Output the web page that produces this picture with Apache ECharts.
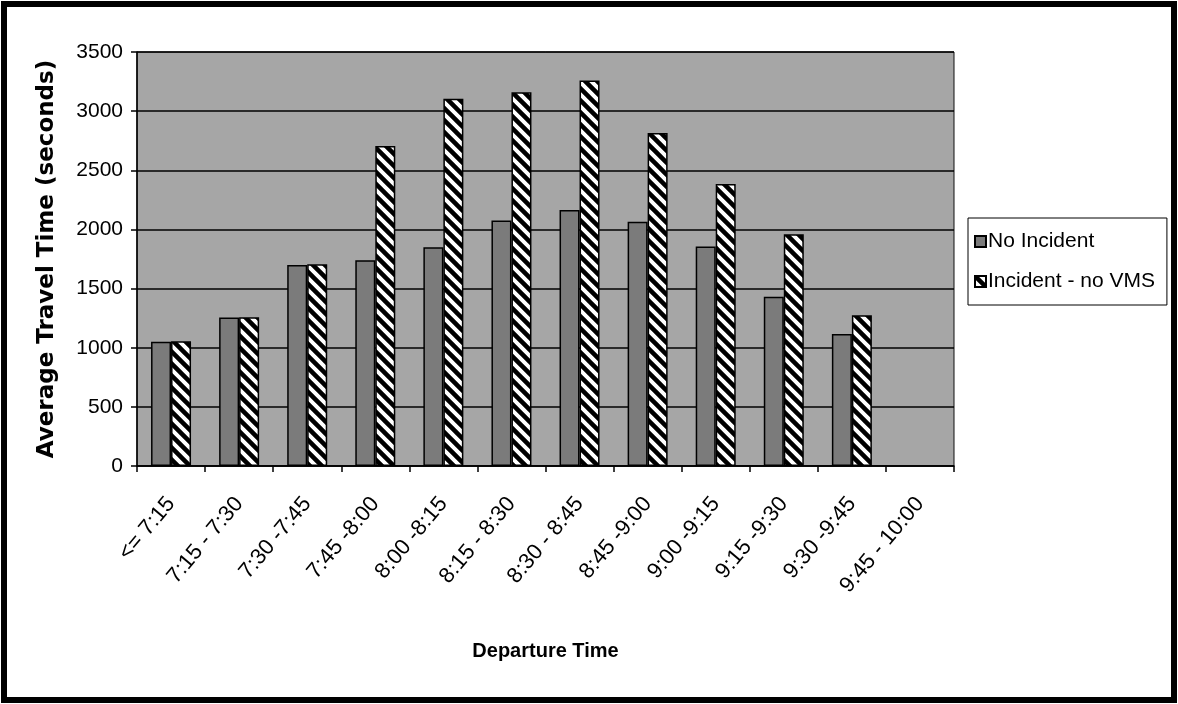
<!DOCTYPE html>
<html><head><meta charset="utf-8">
<script src="https://cdn.jsdelivr.net/npm/echarts@6/dist/echarts.min.js"></script>
<style>html,body{margin:0;padding:0;background:#fff}#c{width:1178px;height:704px}</style>
</head><body><div id="c"></div>
<script>
const categories = ["<= 7:15","7:15 - 7:30","7:30 -7:45","7:45 -8:00","8:00 -8:15","8:15 - 8:30","8:30 - 8:45","8:45 -9:00","9:00 -9:15","9:15 -9:30","9:30 -9:45","9:45 - 10:00"];
const noIncident = [1050,1255,1700,1740,1850,2075,2165,2065,1855,1430,1115,null];
const incidentNoVMS = [1055,1258,1705,2705,3105,3160,3260,2815,2385,1960,1275,null];
const yTicks = {min:0, max:3500, interval:500};

const s = 12;
const cv = document.createElement('canvas');
cv.width = s; cv.height = s;
const cx = cv.getContext('2d');
cx.fillStyle = '#ffffff'; cx.fillRect(0,0,s,s);
cx.strokeStyle = '#000000'; cx.lineWidth = 4.5;
cx.beginPath();
cx.moveTo(-s, 0); cx.lineTo(s, 2*s);
cx.moveTo(-s, -s); cx.lineTo(2*s, 2*s);
cx.moveTo(0, -s); cx.lineTo(2*s, s);
cx.stroke();

const chart = echarts.init(document.getElementById('c'), null, {renderer:'canvas'});
const font = '"Liberation Sans", Arial, sans-serif';
chart.setOption({
  animation:false,
  backgroundColor:'#ffffff',
  graphic:[{type:'rect', shape:{x:4,y:4,width:1170,height:696}, style:{fill:'none', stroke:'#000', lineWidth:6}, z:100}],
  grid:{left:137, right:224, top:52, bottom:238, show:true, backgroundColor:'#a6a6a6', borderColor:'#111', borderWidth:1},
  legend:{
    orient:'vertical', left:968, top:218,
    backgroundColor:'#fff', borderColor:'#000', borderWidth:1,
    padding:[13,12,13,6], itemGap:19, itemWidth:11, itemHeight:11,
    textStyle:{fontFamily:font, fontSize:21, color:'#000', padding:[0,0,0,-3]},
    data:[{name:'No Incident', icon:'rect'},{name:'Incident - no VMS', icon:'rect'}]
  },
  xAxis:{
    type:'category', data:categories,
    name:'Departure Time', nameLocation:'middle', nameGap:175,
    nameTextStyle:{fontFamily:font, fontSize:20, fontWeight:'bold', color:'#000'},
    axisLine:{lineStyle:{color:'#000', width:1.5}},
    axisTick:{show:true, length:6, lineStyle:{color:'#000', width:1.5}},
    axisLabel:{rotate:50, margin:34, fontFamily:font, fontSize:22, color:'#000', interval:0},
  },
  yAxis:{
    type:'value', min:yTicks.min, max:yTicks.max, interval:yTicks.interval,
    name:'Average Travel Time (seconds)', nameLocation:'middle', nameGap:78, nameRotate:90,
    nameTextStyle:{fontFamily:'"DejaVu Sans", sans-serif', fontSize:23, fontWeight:'bold', color:'#000'},
    axisLine:{show:true, lineStyle:{color:'#000', width:1.5}},
    axisTick:{show:true, length:6, lineStyle:{color:'#000', width:1.5}},
    axisLabel:{fontFamily:font, fontSize:21, color:'#000', margin:14, formatter:(v)=>String(v)},
    splitLine:{show:true, lineStyle:{color:'#000', width:1.5}}
  },
  series:[
    {name:'No Incident', type:'bar', data:noIncident, barWidth:20, barGap:'0%',
     itemStyle:{color:'#7b7b7b', borderColor:'#000', borderWidth:1.5}},
    {name:'Incident - no VMS', type:'bar', data:incidentNoVMS, barWidth:20,
     itemStyle:{color:{image:cv, repeat:'repeat'}, borderColor:'#000', borderWidth:1.5}}
  ]
});
</script></body></html>
